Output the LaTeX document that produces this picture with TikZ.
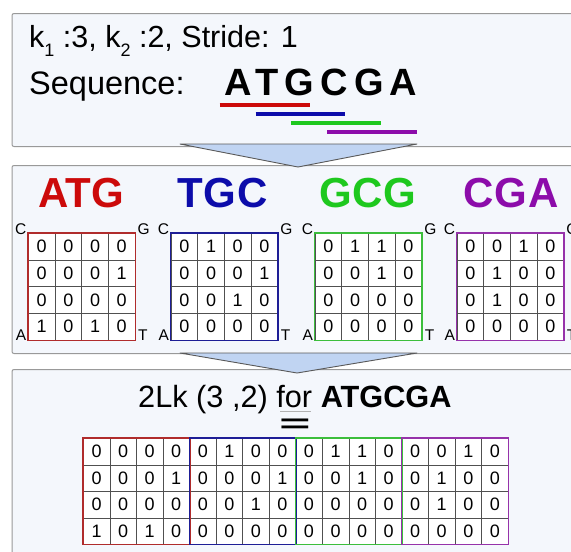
\documentclass[tikz,border=0pt]{standalone}
\usepackage{fontspec}
\setmainfont{Liberation Sans}

\definecolor{kred}{RGB}{204,10,10}
\definecolor{kblue}{RGB}{12,12,170}
\definecolor{kgreen}{RGB}{30,200,30}
\definecolor{kpurple}{RGB}{140,12,170}
\definecolor{bred}{RGB}{176,44,44}
\definecolor{bblue}{RGB}{30,30,150}
\definecolor{bgreen}{RGB}{60,190,60}
\definecolor{bpurple}{RGB}{150,50,170}
\definecolor{panelbg}{RGB}{244,247,252}
\definecolor{arrowbg}{RGB}{192,212,242}
\definecolor{gridline}{RGB}{80,80,80}

% font size in pixels of the picture
\newcommand\fsz[1]{\fontsize{#1}{#1}\selectfont}
% small lowered index as in k_1
\newcommand\lowidx[1]{\raisebox{-0.3em}{\fsz{18}#1}}

% one 4x4 block of cells: name, left x, top y, rows
\newcommand\kmerblock[4]{%
  \foreach \rowvals [count=\r] in {#4} {
    \foreach \val [count=\c] in \rowvals {
      \node[cell] (#1-\r-\c) at ({#2+(\c-0.5)*\cw},{#3+(\r-0.5)*\ch}) {\val};
    }
  }
}
% coloured frame round a block: name, colour
\newcommand\kmerframe[2]{%
  \draw[#2, line width=1.4pt] (#1-1-1.north west) rectangle (#1-4-4.south east);
}

\begin{document}
\begin{tikzpicture}[x=1pt,y=-1pt,
  panel/.style={draw=gray!80, line width=1pt, fill=panelbg, rounded corners=2pt,
    anchor=north west, inner sep=0pt, minimum width=620pt},
  cell/.style={draw=gridline, line width=0.6pt, fill=white, inner sep=0pt,
    minimum width=\cw pt, minimum height=\ch pt, font=\fsz{18}},
  funnel/.style={fill=arrowbg, draw=gray!70!black, line width=0.9pt, line join=round},
  corner/.style={inner sep=0pt, font=\fsz{15.5}},
  txt/.style={inner sep=0pt, anchor=base west},
  seqbar/.style={line width=4pt},
]
\useasboundingbox (0,0) rectangle (571,552);
\clip (0,0) rectangle (571,552);
\fill[white] (0,0) rectangle (571,552);

% three stacked panels
\node[panel, minimum height=133pt] (p1) at (11.5,13) {};
\node[panel, minimum height=188pt] (p2) at (11.5,165) {};
\node[panel, minimum height=200pt] (p3) at (11.5,369) {};

% panel 1: parameters and the sequence
\node[txt, font=\fsz{30.5}] (params) at (29,47)
  {k\lowidx{1} :3, k\lowidx{2} :2, Stride: 1};
\node[txt, font=\fsz{32.5}] (seqlabel) at (29,94) {Sequence:};
\node[txt, font=\bfseries\fsz{38}\addfontfeature{LetterSpace=16.5}] (seq) at (224,95) {ATGCGA};

\draw[seqbar, kred]    (219.5,104.5) -- (309.5,104.5);
\draw[seqbar, kblue]   (255.5,113.5) -- (345,113.5);
\draw[seqbar, kgreen]  (291,122.5) -- (381,122.5);
\draw[seqbar, kpurple] (327,131.5) -- (417,131.5);

% panel 2: the four 3-mers and their matrices
\node[txt, font=\bfseries\fsz{42}, text=kred]    (t1) at (38,207)  {ATG};
\node[txt, font=\bfseries\fsz{42}\addfontfeature{LetterSpace=2}, text=kblue]   (t2) at (177,207) {TGC};
\node[txt, font=\bfseries\fsz{42}\addfontfeature{LetterSpace=2}, text=kgreen]  (t3) at (319,207) {GCG};
\node[txt, font=\bfseries\fsz{42}\addfontfeature{LetterSpace=3}, text=kpurple] (t4) at (463,207) {CGA};

\def\cw{26.7}\def\ch{26.7}
\kmerblock{ma}{28.3}{233.3}{{0,0,0,0},{0,0,0,1},{0,0,0,0},{1,0,1,0}}
\kmerblock{mb}{171}{233.3}{{0,1,0,0},{0,0,0,1},{0,0,1,0},{0,0,0,0}}
\kmerblock{mc}{315}{233.3}{{0,1,1,0},{0,0,1,0},{0,0,0,0},{0,0,0,0}}
\kmerblock{md}{457}{233.3}{{0,0,1,0},{0,1,0,0},{0,1,0,0},{0,0,0,0}}
\kmerframe{ma}{bred}
\kmerframe{mb}{bblue}
\kmerframe{mc}{bgreen}
\kmerframe{md}{bpurple}

% corner letters of each matrix
\foreach \m in {ma,mb,mc,md} {
  \node[corner, anchor=base east] (\m-C) at ([xshift=-1.5pt,yshift=-1pt]\m-1-1.north west) {C};
  \node[corner, anchor=base west] (\m-G) at ([xshift=2pt,yshift=-1pt]\m-1-4.north east) {G};
  \node[corner, anchor=base east] (\m-A) at ([xshift=-1.5pt]\m-4-1.south west) {A};
  \node[corner, anchor=base west] (\m-T) at ([xshift=2.5pt]\m-4-4.south east) {T};
}

% panel 3: the concatenated 2Lk matrix
\node[txt, font=\fsz{30.7}] (title) at (138,407) {2Lk (3 ,2) for \textbf{ATGCGA}};
\draw[gray!60, line width=0.8pt] (280,411.5) -- (311,411.5);
\node[inner sep=0pt, anchor=base, font=\bfseries\fsz{26}, xscale=2.05] (eq) at (295,432.5) {=};

\def\cw{26.55}\def\ch{26.5}
\kmerblock{ba}{83.3}{438.3}{{0,0,0,0},{0,0,0,1},{0,0,0,0},{1,0,1,0}}
\kmerblock{bb}{189.5}{438.3}{{0,1,0,0},{0,0,0,1},{0,0,1,0},{0,0,0,0}}
\kmerblock{bc}{295.7}{438.3}{{0,1,1,0},{0,0,1,0},{0,0,0,0},{0,0,0,0}}
\kmerblock{bd}{401.9}{438.3}{{0,0,1,0},{0,1,0,0},{0,1,0,0},{0,0,0,0}}
\kmerframe{ba}{bred}
\kmerframe{bb}{bblue}
\kmerframe{bc}{bgreen}
\kmerframe{bd}{bpurple}

% funnels between the panels
\coordinate (f1) at (298,167);
\coordinate (f2) at (297,373);
\draw[funnel] (f1 |- p1.south) ++(-118,-3) -- ++(237,0) -- (f1) -- cycle;
\draw[funnel] (f2 |- p2.south) ++(-117,-1) -- ++(237,0) -- (f2) -- cycle;
\end{tikzpicture}
\end{document}
